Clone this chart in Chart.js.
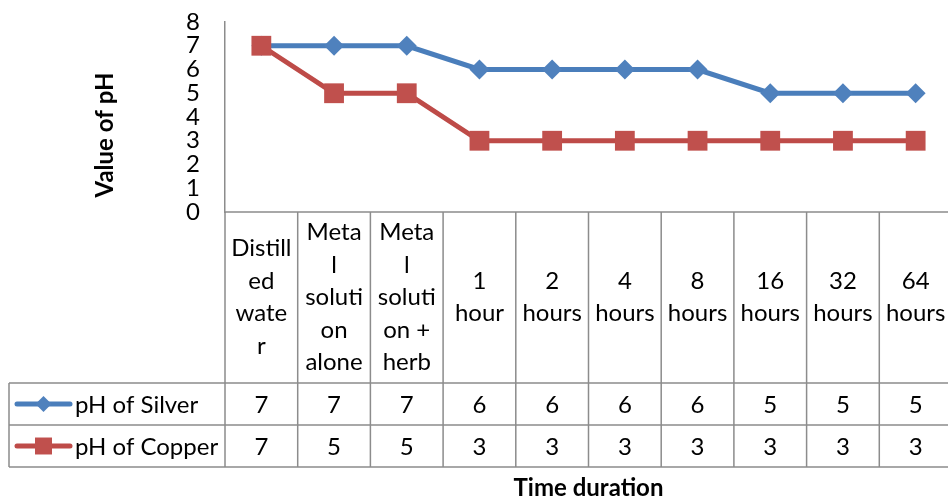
<!DOCTYPE html>
<html lang="en">
<head>
<meta charset="UTF-8">
<title>Value of pH</title>
<style>
  html, body { margin: 0; padding: 0; background: #fff; overflow: hidden; }
  #chart { display: block; }
</style>
</head>
<body>
<canvas id="chart" width="952" height="498"></canvas>
<script src="https://cdn.jsdelivr.net/npm/chart.js@4/dist/chart.umd.min.js"></script>
<script>
// category labels, already wrapped the way they show in the table header
const categories = [
  ['Distill', 'ed', 'wate', 'r'],
  ['Meta', 'l', 'soluti', 'on', 'alone'],
  ['Meta', 'l', 'soluti', 'on +', 'herb'],
  ['1', 'hour'],
  ['2', 'hours'],
  ['4', 'hours'],
  ['8', 'hours'],
  ['16', 'hours'],
  ['32', 'hours'],
  ['64', 'hours']
];
const silverValues = [7, 7, 7, 6, 6, 6, 6, 5, 5, 5];
const copperValues = [7, 5, 5, 3, 3, 3, 3, 3, 3, 3];
const yTicks = [0, 1, 2, 3, 4, 5, 6, 7, 8];
const seriesNames = ['pH of Silver', 'pH of Copper'];
const yTitle = 'Value of pH';
const xTitle = 'Time duration';

const FONT = 'Lato, "Liberation Sans", sans-serif';
const GRID = '#8c8c8c';
const BLUE = '#4a7ebb', BLUE_MK = '#4f81bd';
const RED = '#be4b48', RED_MK = '#c0504d';

// table geometry (px below the plot bottom)
const HEAD_H = 171, ROW_H = 42, LINE_H = 32.5, TABLE_LEFT = 9;

function drawMarker(ctx, style, x, y, r, color) {
  ctx.save();
  ctx.fillStyle = color;
  ctx.beginPath();
  if (style === 'rectRot') {
    ctx.moveTo(x - r, y); ctx.lineTo(x, y - r); ctx.lineTo(x + r, y); ctx.lineTo(x, y + r);
  } else {
    const s = r * Math.SQRT1_2;
    ctx.rect(x - s, y - s, 2 * s, 2 * s);
  }
  ctx.closePath();
  ctx.fill();
  ctx.restore();
}

const dataTable = {
  id: 'dataTable',
  afterDraw(chart) {
    const ctx = chart.ctx;
    const area = chart.chartArea;
    const xs = chart.scales.x;
    const n = categories.length;
    const colW = (area.right - area.left) / n;
    const t0 = area.bottom;
    const t1 = t0 + HEAD_H, t2 = t1 + ROW_H, t3 = t2 + ROW_H;
    const right = area.right + 2;

    ctx.save();
    ctx.strokeStyle = GRID;
    ctx.lineWidth = 1.5;
    ctx.beginPath();
    // horizontal rules
    ctx.moveTo(area.left, t0); ctx.lineTo(right, t0);
    [t1, t2, t3].forEach(yy => { ctx.moveTo(TABLE_LEFT, yy); ctx.lineTo(right, yy); });
    // verticals
    for (let i = 0; i <= n; i++) {
      const xx = area.left + i * colW;
      ctx.moveTo(xx, t0); ctx.lineTo(xx, t3);
    }
    ctx.moveTo(TABLE_LEFT, t1); ctx.lineTo(TABLE_LEFT, t3);
    ctx.stroke();

    ctx.fillStyle = '#000';
    ctx.font = '24px ' + FONT;
    ctx.textAlign = 'center';
    ctx.textBaseline = 'middle';
    categories.forEach((lines, i) => {
      const cx = xs.getPixelForValue(i);
      const mid = (t0 + t1) / 2;
      const start = mid - (lines.length - 1) * LINE_H / 2;
      lines.forEach((s, j) => ctx.fillText(s, cx, start + j * LINE_H));
      ctx.fillText(String(silverValues[i]), cx, (t1 + t2) / 2 + 1);
      ctx.fillText(String(copperValues[i]), cx, (t2 + t3) / 2 + 1);
    });

    // legend keys inside the table
    const keys = [
      { name: seriesNames[0], line: BLUE, mk: BLUE_MK, style: 'rectRot', r: 8, y: (t1 + t2) / 2 },
      { name: seriesNames[1], line: RED, mk: RED_MK, style: 'rect', r: 12, y: (t2 + t3) / 2 }
    ];
    keys.forEach(k => {
      ctx.strokeStyle = k.line;
      ctx.lineWidth = 5;
      ctx.lineCap = 'round';
      ctx.beginPath();
      ctx.moveTo(17, k.y); ctx.lineTo(70, k.y);
      ctx.stroke();
      drawMarker(ctx, k.style, 43.5, k.y, k.r, k.mk);
      ctx.fillStyle = '#000';
      ctx.textAlign = 'left';
      ctx.fillText(k.name, 75, k.y + 1);
    });

    // axis titles
    ctx.font = 'bold 24px ' + FONT;
    ctx.textAlign = 'center';
    ctx.fillText(xTitle, (area.left + area.right) / 2, 488);
    ctx.translate(105, 135);
    ctx.rotate(-Math.PI / 2);
    ctx.fillText(yTitle, 0, 0);
    ctx.restore();
  }
};

new Chart(document.getElementById('chart'), {
  type: 'line',
  data: {
    labels: categories.map(c => c.join(' ')),
    datasets: [
      {
        label: seriesNames[0],
        data: silverValues,
        borderColor: BLUE,
        backgroundColor: BLUE_MK,
        borderWidth: 5,
        pointStyle: 'rectRot',
        pointRadius: 10,
        pointHoverRadius: 10,
        pointBorderWidth: 0,
        pointBackgroundColor: BLUE_MK,
        tension: 0,
        order: 1
      },
      {
        label: seriesNames[1],
        data: copperValues,
        borderColor: RED,
        backgroundColor: RED_MK,
        borderWidth: 5,
        pointStyle: 'rect',
        pointRadius: 14,
        pointHoverRadius: 14,
        pointBorderWidth: 0,
        pointBackgroundColor: RED_MK,
        tension: 0,
        order: 0
      }
    ]
  },
  options: {
    responsive: false,
    animation: false,
    layout: { autoPadding: false, padding: { top: 22, bottom: 286, left: 0, right: 0 } },
    plugins: { legend: { display: false }, tooltip: { enabled: false } },
    scales: {
      x: {
        offset: true,
        grid: { display: false, drawTicks: false },
        border: { display: false },
        ticks: { display: false },
        afterFit(s) { s.height = 0; }
      },
      y: {
        min: 0,
        max: 8,
        afterBuildTicks(s) { s.ticks = yTicks.map(v => ({ value: v })); },
        grid: { display: false, drawTicks: false },
        border: { display: true, color: GRID, width: 1.5 },
        ticks: { color: '#000', padding: 25, autoSkip: false, font: { family: FONT, size: 24 } },
        afterFit(s) {
          s.width = 225;
          s.paddingTop = 0;
          s.paddingBottom = 0;
        }
      }
    }
  },
  plugins: [dataTable]
});
</script>
</body>
</html>
